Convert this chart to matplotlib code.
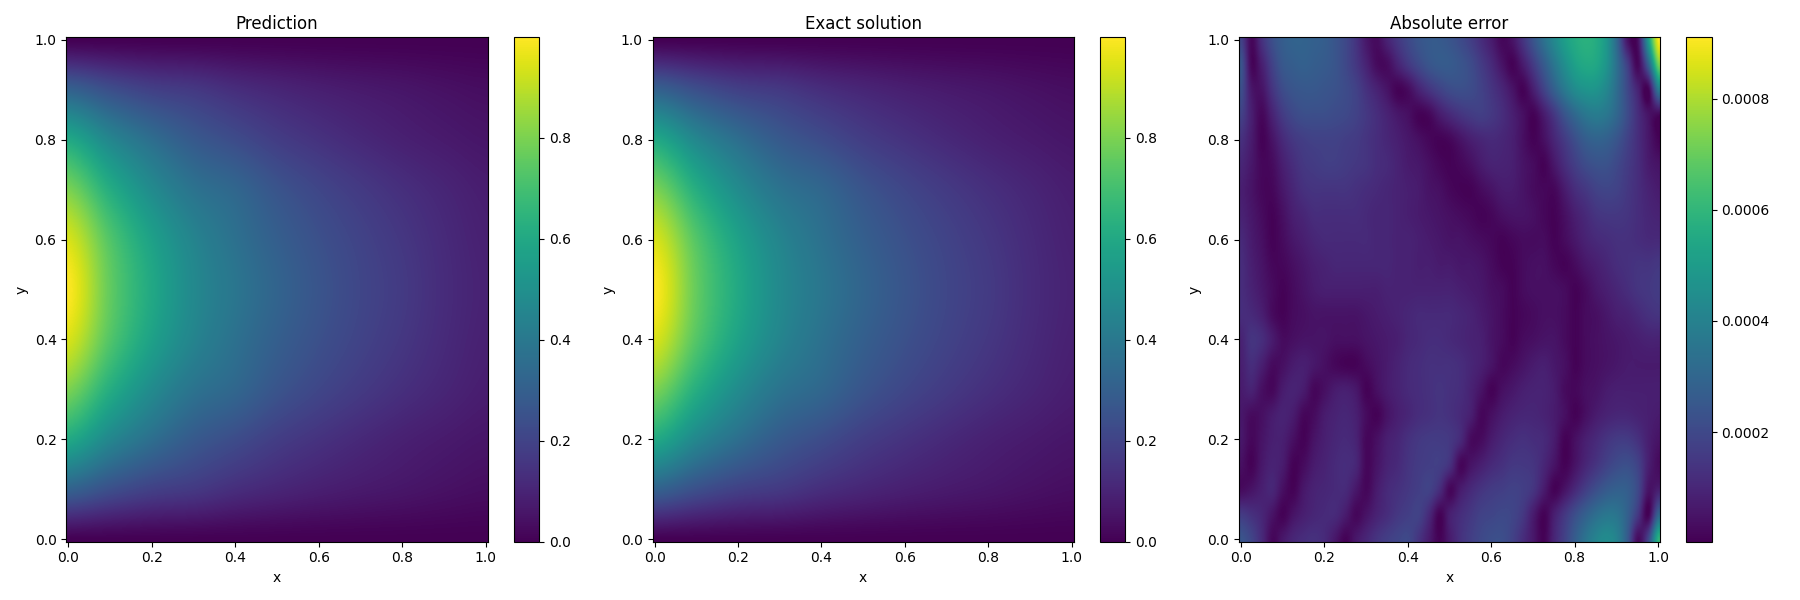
import numpy as np
import matplotlib
matplotlib.use("Agg")
import matplotlib.pyplot as plt

titles = ["Prediction", "Exact solution", "Absolute error"]

# Rows y = 0.0, 0.1 ... 1.0; columns x = 0.0, 0.1 ... 1.0
prediction = [
    [0, 0, 0, 0, 0, 0, 0, 0, 0, 0, 0],
    [.31, .24, .19, .165, .13, .105, .085, .07, .058, .045, .035],
    [.60, .46, .36, .28, .23, .18, .145, .115, .09, .072, .058],
    [.80, .62, .48, .38, .33, .26, .21, .17, .135, .105, .08],
    [.94, .73, .57, .45, .37, .30, .245, .20, .16, .12, .09],
    [.9986, .76, .60, .47, .39, .32, .26, .21, .17, .125, .095],
    [.94, .73, .57, .45, .37, .30, .245, .20, .16, .12, .09],
    [.80, .62, .48, .38, .33, .26, .21, .17, .135, .105, .08],
    [.60, .46, .36, .28, .23, .18, .145, .115, .09, .072, .058],
    [.31, .24, .19, .165, .13, .105, .085, .07, .058, .045, .035],
    [0, 0, 0, 0, 0, 0, 0, 0, 0, 0, 0],
]
exact = [
    [0, 0, 0, 0, 0, 0, 0, 0, 0, 0, 0],
    [.31, .24, .19, .165, .13, .105, .085, .07, .058, .045, .035],
    [.60, .46, .36, .28, .23, .18, .145, .115, .09, .072, .058],
    [.80, .62, .48, .38, .33, .26, .21, .17, .135, .105, .08],
    [.94, .73, .57, .45, .37, .30, .245, .20, .16, .12, .09],
    [.9986, .76, .60, .47, .39, .32, .26, .21, .17, .125, .095],
    [.94, .73, .57, .45, .37, .30, .245, .20, .16, .12, .09],
    [.80, .62, .48, .38, .33, .26, .21, .17, .135, .105, .08],
    [.60, .46, .36, .28, .23, .18, .145, .115, .09, .072, .058],
    [.31, .24, .19, .165, .13, .105, .085, .07, .058, .045, .035],
    [0, 0, 0, 0, 0, 0, 0, 0, 0, 0, 0],
]

# In units of 1e-5:
# rows y = 0.0, 0.05 ... 1.0; columns x = 0.0, 0.025 ... 1.0
error_e5 = [
    [24,19,11,2,6,10,12,13,11,6,1,6,10,14,17,19,20,14,7,1,7,13,17,20,22,22,18,12,6,1,10,18,27,35,41,44,40,26,3,20,60],
    [16,13,10,5,1,5,8,10,11,11,7,2,5,9,12,15,17,18,11,1,8,12,15,18,19,20,19,15,7,1,8,15,22,28,33,36,35,28,15,1,30],
    [3,5,8,10,4,1,6,9,10,11,11,6,2,7,11,13,15,17,18,12,2,7,11,14,16,17,18,17,14,7,1,5,11,17,22,26,28,27,20,5,8],
    [4,1,6,9,7,1,3,7,9,11,12,10,2,5,9,11,14,16,17,17,13,2,5,8,11,13,15,15,14,10,5,1,5,10,14,18,21,22,18,8,3],
    [6,2,5,8,8,4,1,5,8,10,11,9,2,4,8,10,13,15,16,16,15,11,3,3,7,10,12,13,12,11,7,1,4,8,11,14,16,16,13,8,5],
    [6,3,4,7,9,7,2,3,7,9,10,8,3,1,5,8,10,12,13,14,13,11,8,2,4,7,9,10,10,9,7,4,1,4,7,9,10,10,9,8,7],
    [7,9,4,2,7,9,7,2,4,7,8,6,1,4,7,9,11,12,13,14,13,12,9,5,1,4,6,8,9,9,7,3,2,4,5,7,8,8,8,8,8],
    [8,12,8,3,4,7,8,6,4,2,1,1,3,5,7,9,11,12,13,13,13,12,10,8,5,2,3,5,7,8,6,4,1,3,4,5,6,7,7,7,7],
    [9,14,12,7,3,4,5,5,5,4,4,4,5,6,7,8,10,11,12,12,11,10,9,8,5,3,1,3,4,5,5,3,1,3,4,5,6,7,8,9,9],
    [12,11,8,3,1,3,4,5,5,5,5,5,6,7,8,9,10,11,11,11,11,10,9,7,5,3,1,2,3,4,4,3,1,3,4,6,8,9,11,13,14],
    [12,9,6,3,1,3,5,7,8,8,8,8,8,8,9,9,9,9,9,9,9,8,7,6,4,3,1,3,4,4,4,3,1,3,6,8,10,12,14,15,16],
    [12,8,5,2,2,4,6,8,9,10,10,10,10,10,10,9,9,8,8,7,7,6,6,5,3,1,1,3,4,4,2,1,3,6,8,10,12,13,14,14,15],
    [11,7,4,1,3,6,8,10,11,11,11,11,11,10,10,9,9,8,7,6,5,5,4,3,2,1,2,3,3,3,1,3,6,9,11,12,13,13,12,11,11],
    [9,6,3,1,4,8,10,12,12,12,12,12,11,10,10,9,8,7,6,5,4,3,2,1,2,4,5,5,4,2,1,4,8,11,14,15,15,14,12,10,9],
    [8,5,2,2,6,10,13,14,14,14,14,13,12,11,10,9,8,7,5,4,2,1,1,3,5,7,7,5,3,2,2,7,12,15,18,19,18,15,12,9,7],
    [10,6,2,3,8,12,15,16,17,17,16,15,14,12,11,9,7,6,4,2,1,2,4,7,9,9,8,5,3,1,6,12,17,21,23,23,20,16,12,7,5],
    [13,7,1,5,11,15,17,18,18,18,17,16,14,12,10,8,6,4,2,1,2,5,8,10,11,10,8,4,1,4,10,16,22,27,29,28,24,18,12,6,1],
    [18,8,2,9,16,20,22,22,22,21,20,18,15,12,9,6,4,1,2,7,11,14,16,17,15,12,8,4,1,7,15,24,31,36,38,36,30,21,12,5,2],
    [22,6,5,14,21,24,25,25,24,23,21,18,13,9,5,1,3,9,14,18,21,22,21,18,14,10,5,1,8,18,28,37,44,47,47,42,32,20,9,1,38],
    [24,2,8,18,25,27,28,27,26,24,20,15,9,3,3,9,15,20,24,26,26,24,21,16,11,5,1,7,16,26,36,45,52,55,54,47,33,17,2,28,72],
    [18,2,13,22,27,29,29,28,27,24,20,14,6,3,9,15,20,24,26,26,24,21,17,12,7,2,5,14,24,34,43,51,56,58,56,48,30,5,4,50,91],
]

fields = [np.array(prediction), np.array(exact), np.array(error_e5) * 1e-5]
lows = [0.0, 0.0, 0.000003]

fig, axes = plt.subplots(1, 3, figsize=(18, 6), dpi=100)
for ax, field, title, low in zip(axes, fields, titles, lows):
    rows, cols = field.shape
    dx, dy = 1 / (cols - 1), 1 / (rows - 1)
    im = ax.imshow(field, origin="lower", aspect="auto", cmap="viridis",
                   interpolation="catrom", vmin=low, vmax=field.max(),
                   extent=(-dx / 2, 1 + dx / 2, -dy / 2, 1 + dy / 2))
    ax.set_xlim(-0.005, 1.005)
    ax.set_ylim(-0.005, 1.005)
    ax.set_xticks(np.arange(0, 1.01, 0.2))
    ax.set_yticks(np.arange(0, 1.01, 0.2))
    ax.set_title(title)
    ax.set_xlabel("x")
    ax.set_ylabel("y")
    fig.colorbar(im, ax=ax)
fig.tight_layout()
fig.savefig("out.png", dpi=100)
